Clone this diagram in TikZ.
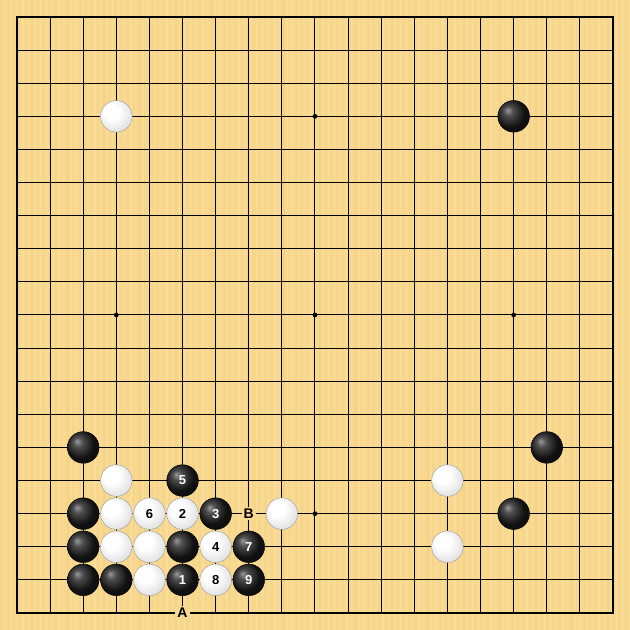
\documentclass[tikz,border=0pt]{standalone}
\usepackage{fontspec}
\setmainfont{Liberation Sans}
\definecolor{board}{RGB}{248,216,142}
\definecolor{boardlt}{RGB}{251,224,158}
\definecolor{boarddk}{RGB}{242,207,128}
\pgfdeclareradialshading{wstone}{\pgfpoint{-10bp}{10bp}}{color(0bp)=(white); color(12bp)=(white); color(30bp)=(black!12); color(44bp)=(black!35); color(50bp)=(black!50)}
\pgfdeclareradialshading{bstone}{\pgfpoint{-10bp}{10bp}}{color(0bp)=(black!40); color(8bp)=(black!70); color(22bp)=(black!93); color(50bp)=(black)}
\tikzset{
  stone/.style={circle,minimum size=15.8pt,inner sep=0pt,text=black,font=\fontsize{6.5}{7}\selectfont\bfseries},
  wst/.style={stone,shading=wstone,draw=black!40,line width=0.2pt},
  bst/.style={stone,shading=bstone,draw=black,line width=0.25pt,text=white},
  lbl/.style={fill=board,inner sep=1pt,font=\fontsize{7}{8}\selectfont\bfseries},
  gridline/.style={line width=0.5pt,black},
  edge/.style={line width=1pt,black},
  star/.style={circle,fill=black,inner sep=0pt,minimum size=2.4pt}
}
\begin{document}
\begin{tikzpicture}
\useasboundingbox (0,0) rectangle (315pt,-315pt);
\fill[board] (0,0) rectangle (315pt,-315pt);
% wood texture stripes
\foreach \i in {0,...,210}{
  \pgfmathsetmacro{\xx}{1.5*\i+0.6*mod(\i*7,3)}
  \pgfmathsetmacro{\ww}{0.25+0.2*mod(\i*5,4)}
  \ifodd\i
    \fill[boardlt,opacity=0.7] (\xx pt,0) rectangle ++(\ww pt,-315pt);
  \else
    \fill[boarddk,opacity=0.5] (\xx pt,0) rectangle ++(\ww pt,-315pt);
  \fi
}
\begin{scope}[shift={(8.5pt,-8.5pt)},x=16.555pt,y=-16.555pt]
\foreach \k in {1,...,17}{
  \draw[gridline] (\k,0) -- (\k,18);
  \draw[gridline] (0,\k) -- (18,\k);
}
\draw[edge] (0,0) rectangle (18,18);
\foreach \a in {3,9,15}{\foreach \b in {3,9,15}{\node[star] (st-\a-\b) at (\a,\b) {};}}
% labels
\node[lbl] (B) at (7,15) {B};
\node[lbl] (A) at (5,18) {A};
% white stones
\foreach \c/\r/\t in {3/3/,3/14/,13/14/,3/15/,4/15/6,5/15/2,8/15/,3/16/,4/16/,6/16/4,13/16/,4/17/,6/17/8}{
  \node[wst] (w-\c-\r) at (\c,\r) {\t};
}
% black stones
\foreach \c/\r/\t in {15/3/,2/13/,16/13/,5/14/5,2/15/,6/15/3,15/15/,2/16/,5/16/,7/16/7,2/17/,3/17/,5/17/1,7/17/9}{
  \node[bst] (b-\c-\r) at (\c,\r) {\t};
}
\end{scope}
\end{tikzpicture}
\end{document}
